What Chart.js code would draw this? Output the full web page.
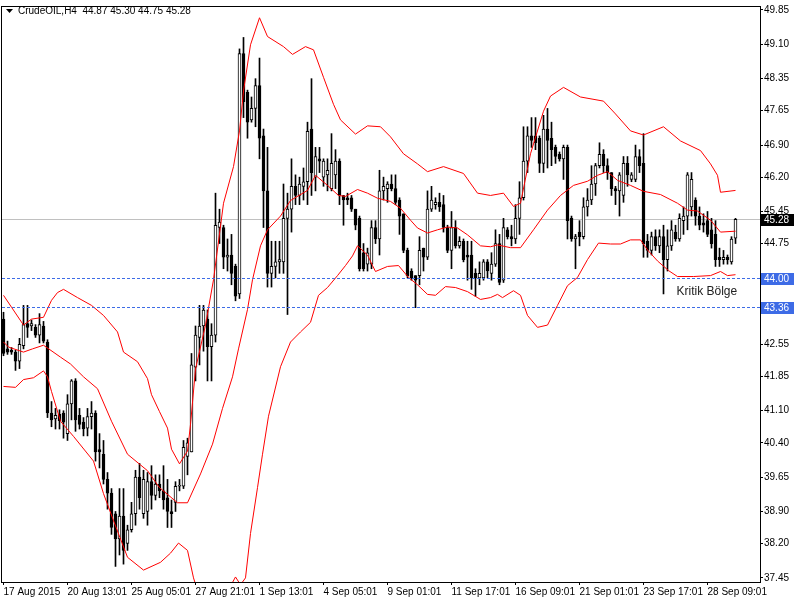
<!DOCTYPE html>
<html>
<head>
<meta charset="utf-8">
<script src="https://cdn.jsdelivr.net/npm/chart.js@4.4.1/dist/chart.umd.min.js"></script>
<style>
  html, body { margin: 0; padding: 0; background: #fff; }
  canvas { display: block; }
</style>
</head>
<body>
<canvas id="chart" width="800" height="600"></canvas>
<script>
// CrudeOIL H4 candles, 17 Aug 2015 -> 29 Sep 2015 (bar index 0..183)
const opens = [
  43.10, 42.45, 42.42, 42.38, 42.18, 42.52, 43.00, 42.95, 42.92, 42.75,
  42.95, 42.60, 41.05, 40.92, 41.02, 41.05, 40.60, 41.25, 41.75, 41.00,
  40.85, 40.72, 40.97, 41.05, 40.25, 40.15, 39.60, 39.30, 38.85, 38.30,
  38.80, 38.20, 38.50, 38.85, 39.65, 38.85, 38.90, 39.55, 39.25, 39.50,
  39.35, 39.20, 38.90, 39.10, 39.45, 39.45, 40.10, 40.20, 42.05, 42.70,
  42.95, 43.10, 42.50, 42.75, 45.10, 45.10, 44.45, 44.50, 44.25, 43.65,
  48.90, 48.05, 47.45, 47.70, 48.20, 47.10, 45.90, 44.10, 44.25, 44.35,
  44.35, 45.30, 45.50, 46.00, 45.80, 46.00, 46.10, 47.25, 46.20, 46.60,
  46.20, 46.25, 45.95, 46.25, 46.55, 45.80, 45.75, 45.75, 45.50, 45.30,
  44.55, 44.30, 44.30, 45.10, 44.85, 45.90, 45.95, 46.05, 45.95, 45.70,
  45.40, 44.60, 44.15, 44.05, 44.05, 44.65, 44.45, 45.50, 45.60, 45.65,
  45.60, 45.10, 44.60, 45.10, 44.70, 44.80, 44.50, 44.50, 44.10, 44.00,
  44.00, 44.35, 44.10, 44.30, 44.75, 43.95, 45.05, 44.90, 44.85, 45.30,
  45.75, 46.55, 47.10, 47.10, 47.05, 46.50, 47.25, 47.05, 46.85, 46.70,
  46.60, 46.85, 45.30, 44.85, 45.00, 44.90, 45.55, 45.70, 46.05, 46.45,
  46.70, 46.45, 46.30, 45.95, 45.90, 45.80, 46.50, 46.15, 46.15, 46.65,
  46.50, 44.80, 44.60, 44.90, 44.70, 44.90, 44.40, 44.70, 45.00, 44.85,
  45.25, 45.35, 45.55, 45.70, 45.35, 45.20, 45.25, 45.05, 44.95, 44.45,
  44.40, 44.45, 44.35, 44.87
];
const highs = [
  43.25, 42.62, 42.48, 42.42, 42.68, 43.40, 43.40, 43.08, 42.98, 43.22,
  43.05, 42.65, 41.30, 41.15, 41.12, 41.10, 41.45, 41.78, 41.80, 41.15,
  40.95, 41.15, 41.30, 41.10, 40.60, 40.45, 39.75, 39.40, 38.90, 39.40,
  39.40, 38.60, 39.10, 39.80, 39.95, 39.80, 39.75, 39.90, 39.70, 39.70,
  39.90, 39.60, 39.15, 39.55, 39.60, 40.45, 40.50, 42.35, 42.95, 43.40,
  43.40, 43.30, 43.00, 45.85, 45.50, 45.15, 44.85, 44.95, 44.30, 49.00,
  49.25, 48.10, 47.95, 48.35, 48.80, 47.25, 46.85, 44.80, 44.80, 44.80,
  46.05, 45.85, 46.60, 46.25, 46.20, 46.40, 47.40, 48.35, 46.85, 46.85,
  46.60, 46.60, 47.15, 46.80, 46.60, 45.80, 45.85, 45.80, 45.50, 45.35,
  44.75, 44.65, 45.25, 45.25, 46.35, 46.20, 46.10, 46.25, 46.25, 45.75,
  45.40, 44.65, 44.20, 44.05, 44.90, 44.65, 45.90, 46.00, 45.75, 45.85,
  45.80, 45.15, 45.45, 45.25, 44.90, 44.85, 44.80, 44.80, 44.20, 44.35,
  44.40, 44.40, 44.55, 45.05, 44.95, 45.30, 45.10, 45.15, 45.60, 46.10,
  47.30, 47.30, 47.50, 47.50, 47.10, 47.55, 47.70, 47.40, 46.90, 46.75,
  46.90, 46.90, 45.35, 44.95, 45.25, 45.75, 45.95, 46.45, 46.50, 46.95,
  46.80, 46.60, 46.30, 46.00, 46.30, 46.65, 46.65, 46.30, 46.90, 46.80,
  47.15, 44.95, 45.00, 45.05, 45.05, 45.15, 45.05, 45.25, 45.15, 45.40,
  45.55, 46.30, 46.30, 45.75, 45.55, 45.40, 45.45, 45.30, 45.25, 44.65,
  44.60, 44.50, 44.90, 45.30
];
const lows = [
  42.30, 42.33, 42.33, 41.98, 42.02, 42.45, 42.70, 42.85, 42.70, 42.58,
  42.58, 40.95, 40.75, 40.70, 40.70, 40.50, 40.45, 40.90, 40.65, 40.70,
  40.55, 40.55, 40.70, 40.00, 39.85, 39.50, 38.95, 38.40, 37.70, 37.95,
  37.75, 38.05, 38.45, 38.60, 38.95, 38.75, 38.60, 38.95, 39.15, 39.20,
  38.95, 38.55, 38.55, 38.90, 39.35, 39.40, 39.70, 40.20, 41.75, 42.10,
  42.40, 41.75, 41.75, 42.60, 44.75, 44.20, 44.15, 43.85, 43.50, 43.55,
  47.50, 47.05, 47.40, 47.30, 46.60, 45.10, 43.80, 43.80, 44.00, 44.10,
  44.10, 43.20, 45.00, 45.60, 45.60, 45.70, 45.60, 45.80, 45.90, 46.30,
  46.00, 45.90, 45.90, 45.95, 45.60, 45.15, 45.60, 45.45, 45.05, 44.15,
  44.15, 44.15, 44.20, 44.75, 44.50, 45.70, 45.65, 45.90, 45.60, 44.95,
  44.55, 44.00, 43.95, 43.35, 43.85, 44.15, 44.40, 45.45, 45.50, 45.45,
  45.00, 44.55, 44.20, 44.65, 44.65, 44.35, 43.95, 43.75, 43.60, 43.85,
  43.95, 44.00, 43.95, 44.25, 43.85, 43.90, 44.85, 44.70, 44.75, 44.95,
  45.70, 46.30, 46.85, 46.80, 46.30, 46.30, 46.40, 46.45, 46.50, 46.55,
  46.15, 44.85, 44.80, 44.20, 44.70, 44.85, 45.35, 45.60, 45.80, 46.40,
  46.30, 46.15, 45.80, 45.60, 45.35, 45.65, 46.00, 46.10, 46.10, 46.30,
  44.45, 44.45, 44.50, 44.60, 44.55, 43.65, 44.15, 44.60, 44.80, 44.80,
  44.95, 45.05, 45.35, 45.15, 45.05, 45.00, 44.90, 44.65, 44.25, 44.25,
  44.30, 44.30, 44.30, 44.75
];
const closes = [
  42.35, 42.38, 42.38, 42.18, 42.55, 42.98, 42.92, 43.00, 42.75, 42.98,
  42.62, 41.05, 40.90, 41.00, 40.88, 40.85, 41.25, 41.75, 40.90, 40.80,
  40.70, 40.97, 41.05, 40.20, 40.20, 39.60, 39.30, 38.55, 38.30, 38.80,
  38.05, 38.50, 38.85, 39.65, 39.20, 39.60, 39.55, 39.25, 39.50, 39.35,
  39.15, 38.90, 38.85, 39.45, 39.47, 40.30, 40.40, 42.10, 42.75, 42.95,
  43.30, 42.50, 42.75, 45.15, 45.22, 44.45, 44.50, 44.10, 43.60, 48.90,
  47.85, 47.40, 47.70, 48.20, 47.05, 45.90, 44.10, 44.25, 44.35, 44.40,
  45.30, 45.50, 46.00, 45.80, 46.05, 46.10, 47.20, 46.30, 46.65, 46.55,
  46.55, 46.35, 46.50, 46.55, 45.80, 45.70, 45.70, 45.50, 45.15, 44.20,
  44.20, 44.55, 45.10, 44.85, 45.90, 46.00, 46.05, 45.95, 45.65, 45.35,
  44.60, 44.05, 44.00, 43.95, 44.60, 44.45, 45.50, 45.70, 45.65, 45.55,
  45.10, 44.60, 45.10, 44.70, 44.80, 44.40, 44.45, 44.00, 44.00, 44.10,
  44.35, 44.15, 44.30, 44.75, 43.90, 45.10, 44.90, 44.85, 45.30, 45.75,
  46.55, 47.10, 47.00, 46.95, 46.50, 47.25, 47.00, 46.80, 46.65, 46.60,
  46.85, 45.25, 44.85, 44.90, 44.90, 45.55, 45.70, 46.05, 46.45, 46.70,
  46.45, 46.30, 45.95, 45.90, 46.25, 46.50, 46.25, 46.25, 46.65, 46.45,
  44.75, 44.60, 44.90, 44.70, 44.90, 44.40, 44.70, 45.05, 44.85, 45.30,
  45.35, 46.25, 46.15, 45.35, 45.15, 45.15, 44.95, 44.75, 44.40, 44.40,
  44.45, 44.40, 44.85, 45.28
];

// Bollinger bands: [bar index, price]
const upperBand = [
  [0,43.62],[2,43.36],[5,42.97],[7,43.10],[10,43.14],[12,43.51],[13.5,43.68],[15,43.75],
  [18.5,43.57],[22,43.40],[25,43.18],[28.5,42.82],[30,42.38],[33.5,42.17],[36,41.80],
  [37,41.45],[39,41.08],[41,40.72],[42,40.26],[44,39.94],[46,40.22],[46.75,40.80],
  [48,42.01],[50.5,42.97],[52.5,43.96],[55,45.63],[57.5,46.43],[59,47.21],[60,48.08],
  [61.75,49.09],[64,49.68],[66,49.27],[70,49.05],[72.25,48.88],[75.5,49.05],[77.5,48.98],
  [80,48.38],[82.5,47.79],[84.25,47.45],[88,47.14],[91,47.32],[94.25,47.30],[96.75,47.08],
  [100,46.71],[103.5,46.49],[106,46.32],[110,46.43],[115,46.28],[118.5,45.85],[121.75,45.80],
  [125,45.85],[127.5,45.56],[129.25,45.63],[131.75,46.71],[135,47.64],[136.75,47.97],
  [140,48.16],[144.25,47.95],[150,47.86],[153,47.58],[156.75,47.21],[160,47.12],[165,47.30],
  [169.25,46.99],[174.25,46.78],[176.75,46.49],[178.5,46.24],[179.25,45.87],[183,45.91]
];
const middleBand = [
  [0,42.60],[1.25,42.49],[5,42.38],[7.25,42.45],[10,42.53],[14.25,42.27],[16.75,42.12],
  [20,41.84],[23.5,41.58],[27,40.87],[31,40.15],[36,39.79],[39,39.42],[43.5,39.09],
  [46,39.09],[49.25,39.72],[52.25,40.37],[54.75,41.15],[57.25,41.84],[58.75,42.45],
  [61,43.31],[62.25,43.96],[64.25,44.70],[66,45.05],[69.25,45.35],[71.75,45.69],[76,45.91],
  [78,46.24],[81,46.02],[83.75,45.80],[85.5,45.78],[88.5,45.93],[91,45.85],[93.5,45.74],
  [96.75,45.67],[99.25,45.52],[101.75,45.26],[103.5,45.09],[106,44.98],[108.5,45.05],
  [111,45.11],[113.5,45.09],[116,44.94],[119.25,44.70],[121.75,44.68],[123.5,44.72],
  [126.75,44.66],[129.25,44.66],[132.5,45.05],[136,45.48],[139.25,45.80],[142.5,46.02],
  [146,46.11],[148.5,46.24],[151,46.32],[153.5,46.13],[156.75,46.02],[160,45.89],
  [164.25,45.82],[168.5,45.63],[171,45.48],[173.5,45.46],[176.75,45.26],[179.25,45.00],[183,45.02]
];
const lowerBand = [
  [0,41.63],[3,41.61],[5,41.78],[7.5,41.82],[10,41.97],[11,41.84],[12,41.52],[14.25,40.87],
  [17.5,40.54],[22.5,40.00],[25,39.29],[27.5,38.70],[31,37.90],[35,37.62],[39.25,37.79],
  [41.75,37.99],[43.75,38.21],[46,38.05],[47.5,37.45],[49.25,36.97],[51.75,36.54],
  [54.25,36.65],[56.25,37.19],[58,37.47],[59.25,37.30],[60.5,37.45],[61.75,38.42],
  [63.5,39.42],[64.75,40.15],[66.25,40.98],[69.25,42.06],[71.75,42.60],[74.25,42.82],
  [76.75,43.03],[78.75,43.62],[81,43.79],[83.5,44.05],[85.5,44.27],[87.25,44.48],
  [88.5,44.70],[91,44.50],[92.25,44.27],[93,44.14],[96,44.25],[98.75,44.27],[101.25,44.01],
  [103.5,43.85],[106,43.64],[108,43.62],[110.5,43.81],[113,43.79],[116,43.70],[119.25,43.53],
  [121.75,43.57],[123.5,43.64],[124.75,43.57],[127.5,43.72],[129.25,43.62],[131,43.18],
  [133.5,42.92],[136,42.97],[138.5,43.40],[141,43.83],[143.5,44.01],[146,44.40],
  [148.75,44.76],[151.75,44.74],[154.25,44.74],[156.75,44.83],[159.25,44.83],[161,44.61],
  [163.5,44.37],[166.25,44.16],[168.5,44.03],[172.5,44.03],[176.75,44.05],[179.25,44.14],
  [181,44.05],[183,44.07]
];

const priceTicks = [49.85, 49.10, 48.35, 47.65, 46.90, 46.20, 45.45, 44.75, 44.00,
                    43.30, 42.55, 41.85, 41.10, 40.40, 39.65, 38.90, 38.20, 37.45];
const timeTickBars = [0, 16, 32, 48, 64, 80, 96, 112, 128, 144, 160, 176];
const timeTickLabels = ['17 Aug 2015', '20 Aug 13:01', '25 Aug 05:01', '27 Aug 21:01',
  '1 Sep 13:01', '4 Sep 05:01', '9 Sep 01:01', '11 Sep 17:01', '16 Sep 09:01',
  '21 Sep 01:01', '23 Sep 17:01', '28 Sep 09:01'];

const lastPrice = 45.28;
const supportLevels = [44.00, 43.36];
const zoneLabel = { text: 'Kritik Bölge', bar: 168, price: 43.70 };
const title = 'CrudeOIL,H4  44.87 45.30 44.75 45.28';

const FONT = "'Liberation Sans', Arial, sans-serif";
Chart.defaults.font.family = FONT;
Chart.defaults.font.size = 10;
Chart.defaults.color = '#000';

const bars = opens.map((o, i) => i);
const bodyData = bars.map(i => ({ x: i, y: [opens[i], closes[i]] }));
const wickData = bars.map(i => ({ x: i, y: [lows[i], highs[i]] }));
const bodyFill = bars.map(i => closes[i] >= opens[i] ? '#ffffff' : '#000000');
const pts = arr => arr.map(p => ({ x: p[0], y: p[1] }));

const bandStyle = {
  type: 'line', borderColor: '#ff0000', borderWidth: 1, pointRadius: 0,
  tension: 0, fill: false, order: 1
};

// horizontal level lines, snapped to whole pixels
function levelLine(chart, v, color, dash) {
  const { ctx, chartArea: a, scales: { y } } = chart;
  const py = Math.round(y.getPixelForValue(v)) + 0.5;
  ctx.save();
  ctx.strokeStyle = color;
  ctx.lineWidth = 1;
  ctx.setLineDash(dash);
  ctx.beginPath();
  ctx.moveTo(a.left, py);
  ctx.lineTo(a.right, py);
  ctx.stroke();
  ctx.restore();
}

const decorations = {
  id: 'decorations',
  beforeDatasetsDraw(chart) {
    levelLine(chart, lastPrice, '#c0c0c0', []);
  },
  afterDatasetsDraw(chart) {
    const { ctx, chartArea: a, scales: { x, y } } = chart;
    supportLevels.forEach(v => levelLine(chart, v, '#3d6be6', [3, 2]));

    ctx.save();
    ctx.strokeStyle = '#000';
    ctx.lineWidth = 1;
    ctx.strokeRect(a.left - 0.5, a.top - 0.5, a.right - a.left + 1, a.bottom - a.top + 1);

    // title
    ctx.fillStyle = '#000';
    ctx.beginPath();
    ctx.moveTo(6, 9); ctx.lineTo(13, 9); ctx.lineTo(9.5, 13); ctx.closePath();
    ctx.fill();
    ctx.font = '10px ' + FONT;
    ctx.textBaseline = 'middle';
    ctx.textAlign = 'left';
    ctx.fillText(title, 18, 11);

    // price labels on the axis
    const box = (v, bg) => {
      const py = Math.round(y.getPixelForValue(v));
      ctx.fillStyle = bg;
      ctx.fillRect(a.right + 1, py - 5, 33, 12);
      ctx.fillStyle = '#fff';
      ctx.fillText(v.toFixed(2), a.right + 4, py + 1);
    };
    box(lastPrice, '#000');
    supportLevels.forEach(v => box(v, '#3d6be6'));

    // zone text
    ctx.fillStyle = '#222';
    ctx.font = '12px ' + FONT;
    ctx.fillText(zoneLabel.text, x.getPixelForValue(zoneLabel.bar) + 1, y.getPixelForValue(zoneLabel.price));
    ctx.restore();
  }
};

new Chart(document.getElementById('chart').getContext('2d'), {
  type: 'bar',
  data: {
    datasets: [
      { type: 'bar', data: wickData, backgroundColor: '#000', borderWidth: 0,
        barThickness: 1, grouped: false, order: 3 },
      { type: 'bar', data: bodyData, backgroundColor: bodyFill, borderColor: '#000',
        borderWidth: 1, borderSkipped: false, barThickness: 3, minBarLength: 1,
        grouped: false, order: 2 },
      { ...bandStyle, data: pts(upperBand) },
      { ...bandStyle, data: pts(middleBand) },
      { ...bandStyle, data: pts(lowerBand) }
    ]
  },
  options: {
    responsive: false,
    animation: false,
    devicePixelRatio: 1,
    layout: { padding: { left: 2, top: 2, right: 0, bottom: 0 } },
    plugins: { legend: { display: false }, tooltip: { enabled: false } },
    scales: {
      x: {
        type: 'linear', min: -0.375, max: 189.125, offset: false,
        grid: { offset: false, drawOnChartArea: false, drawTicks: true, tickLength: 3, color: '#000' },
        border: { display: true, color: '#000' },
        afterBuildTicks: s => { s.ticks = timeTickBars.map(v => ({ value: v })); },
        afterFit: s => { s.height = 18; },
        ticks: {
          autoSkip: false, maxRotation: 0, minRotation: 0, align: 'start', padding: 1,
          callback: (v, i) => timeTickLabels[i]
        }
      },
      y: {
        position: 'right', min: 37.36, max: 49.915,
        grid: { drawOnChartArea: false, drawTicks: true, tickLength: 3, color: '#000' },
        border: { display: true, color: '#000' },
        afterBuildTicks: s => { s.ticks = priceTicks.map(v => ({ value: v })); },
        afterFit: s => { s.width = 40; },
        ticks: { padding: 1, callback: v => v.toFixed(2) }
      }
    }
  },
  plugins: [decorations]
});
</script>
</body>
</html>
